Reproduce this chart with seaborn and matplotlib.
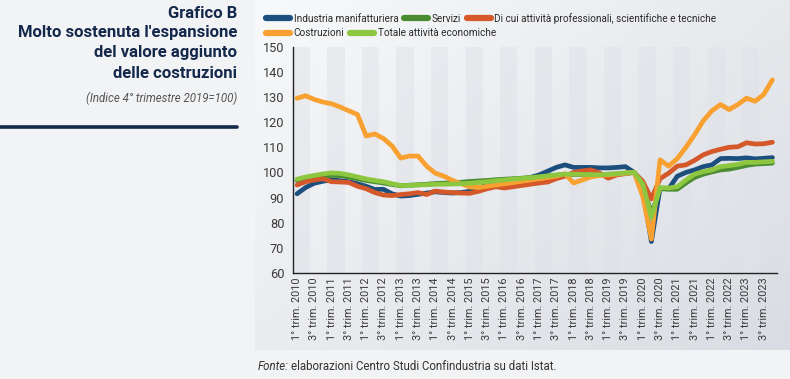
import numpy as np
import pandas as pd
import matplotlib
matplotlib.use("Agg")
import matplotlib.pyplot as plt
import seaborn as sns
from matplotlib.lines import Line2D

# quarterly labels, 1Q2010 - 4Q2023
years = list(range(2010, 2024))
quarters = [f"{q}° trim. {y}" for y in years for q in (1, 2, 3, 4)]

industria = [91.5, 94.0, 95.7, 96.5, 97.0, 96.7, 96.3, 95.5, 94.5, 93.2,
             93.3, 91.5, 90.6, 90.8, 91.3, 91.8, 92.3, 92.0, 91.8, 92.0,
             92.5, 93.5, 95.3, 96.0, 96.5, 97.0, 97.3, 98.0, 99.0, 100.5,
             102.0, 103.0, 102.0, 102.0, 102.0, 101.8, 101.8, 102.0, 102.3, 100.0,
             93.5, 72.5, 93.7, 93.5, 98.5, 100.0, 101.0, 102.3, 103.0, 105.5,
             105.6, 105.5, 105.8, 105.4, 105.6, 105.9]
servizi = [96.8, 97.5, 98.2, 98.6, 98.8, 98.7, 98.2, 97.5, 96.8, 96.3,
           95.8, 95.2, 94.7, 94.9, 95.1, 95.3, 95.6, 95.7, 95.9, 96.1,
           96.4, 96.6, 96.8, 97.1, 97.3, 97.5, 97.7, 98.0, 98.3, 98.6,
           98.9, 99.1, 99.2, 99.1, 99.0, 99.0, 99.2, 99.4, 99.7, 100.0,
           95.3, 83.5, 93.5, 93.3, 93.3, 95.8, 98.0, 99.3, 100.2, 101.0,
           101.3, 102.0, 102.8, 103.3, 103.5, 103.7]
professionali = [95.0, 96.3, 97.0, 97.5, 96.3, 96.2, 96.0, 94.5, 93.5, 92.0,
                 91.0, 90.8, 91.2, 91.5, 92.0, 91.2, 92.6, 92.2, 92.0, 91.8,
                 91.7, 92.5, 93.5, 94.3, 93.8, 94.3, 94.8, 95.3, 95.8, 96.2,
                 97.5, 98.5, 100.0, 100.6, 101.0, 99.8, 97.7, 99.0, 99.5, 100.0,
                 96.5, 89.5, 97.5, 99.7, 102.5, 103.0, 104.8, 107.0, 108.3, 109.2,
                 110.0, 110.2, 111.8, 111.3, 111.4, 112.0]
costruzioni = [129.5, 130.5, 129.0, 128.0, 127.3, 126.0, 124.5, 123.0, 114.5, 115.3,
               113.5, 110.5, 105.7, 106.5, 106.5, 102.5, 99.7, 98.5, 96.8, 95.5,
               94.2, 94.0, 94.5, 95.0, 95.5, 96.0, 96.5, 97.0, 97.5, 98.0,
               98.5, 99.5, 95.8, 97.0, 98.2, 98.8, 99.0, 99.3, 99.7, 100.0,
               90.5, 73.5, 105.0, 102.5, 105.5, 110.0, 115.0, 120.5, 124.5, 127.0,
               125.0, 127.0, 129.5, 128.3, 131.0, 136.8]
totale = [97.3, 98.2, 98.8, 99.4, 99.8, 99.6, 99.0, 98.2, 97.4, 96.8,
          96.3, 95.5, 94.8, 94.8, 95.0, 95.1, 95.3, 95.3, 95.4, 95.5,
          95.7, 96.0, 96.3, 96.7, 97.0, 97.3, 97.6, 97.9, 98.2, 98.6,
          99.0, 99.3, 99.3, 99.2, 99.1, 99.1, 99.3, 99.5, 99.8, 100.0,
          95.5, 82.0, 94.0, 93.8, 94.3, 97.0, 99.3, 100.3, 101.0, 102.3,
          102.7, 103.2, 104.0, 104.0, 104.2, 104.4]

series_names = ["Industria manifatturiera", "Servizi",
                "Di cui attività professionali, scientifiche e tecniche",
                "Costruzioni", "Totale attività economiche"]
series_colors = ["#1c4f7e", "#4b8b32", "#d5582a", "#f8a030", "#8dc63f"]

wide = pd.DataFrame({"pos": np.arange(len(quarters))})
for name, vals in zip(series_names, [industria, servizi, professionali, costruzioni, totale]):
    wide[name] = vals
data = wide.melt(id_vars="pos", var_name="serie", value_name="valore")

sns.set_theme(style="white")
plt.rcParams["font.family"] = ["Roboto", "DejaVu Sans"]

fig = plt.figure(figsize=(7.9, 3.79), dpi=100)
fig.patch.set_facecolor("#f2f3f5")

# soft gradient panel behind the chart
bg = fig.add_axes([255 / 790, 1 - 350 / 379, 535 / 790, 350 / 379], zorder=-5)
gx, gy = np.meshgrid(np.linspace(0, 1, 200), np.linspace(0, 1, 100))
grad = 0.55 * gx + 0.45 * gy
bg.imshow(grad, cmap=matplotlib.colors.LinearSegmentedColormap.from_list("g", ["#f8f9fa", "#d9dce2"]),
          aspect="auto", extent=[0, 1, 1, 0])
bg.axis("off")

ax = fig.add_axes([292.7 / 790, 1 - 273 / 379, 484 / 790, 226.3 / 379])
ax.set_facecolor("none")

n = len(quarters)
for k in range(0, n, 4):
    ax.axvspan(k - 0.5, k + 1.5, color="#dfe2e8", alpha=0.5, lw=0, zorder=0)

sns.lineplot(data=data, x="pos", y="valore", hue="serie", hue_order=series_names,
             palette=series_colors, linewidth=3.4, legend=False, ax=ax, sort=False)
for ln in ax.lines:
    ln.set_solid_joinstyle("round")
    ln.set_solid_capstyle("round")

ax.set_xlim(-0.5, n - 0.5)
ax.set_ylim(60, 150)
ax.set_yticks(range(60, 151, 10))
ax.set_xticks(np.arange(-0.5, n, 2))
ax.set_xticklabels([])
ax.set_xticks(np.arange(0, n, 2), minor=True)
ax.set_xticklabels(quarters[::2], minor=True, rotation=90, fontsize=7.8, color="#3a3a3a")
ax.tick_params(axis="x", which="major", length=4, width=0.9, color="#222222", direction="out")
ax.tick_params(axis="x", which="minor", length=0, pad=3)
ax.tick_params(axis="y", length=4, width=0.9, color="#222222", pad=2, labelsize=9.2,
               labelcolor="#3a3a3a")
ax.set_xlabel("")
ax.set_ylabel("")
for side in ["top", "right"]:
    ax.spines[side].set_visible(False)
for side in ["left", "bottom"]:
    ax.spines[side].set_color("#222222")
    ax.spines[side].set_linewidth(1.0)

# legend in two rows, as in the original
handles = [Line2D([0], [0], color=c, lw=4.5, solid_capstyle="round") for c in series_colors]
leg_kw = dict(frameon=False, handlelength=2.4, handletextpad=0.35, columnspacing=0.6,
              prop={"size": 7.2}, labelcolor="#2a2a2a", borderaxespad=0)
leg1 = fig.legend(handles[:3], series_names[:3], ncol=3, loc="upper left",
                  bbox_to_anchor=(262 / 790, 1 - 9 / 379), **leg_kw)
leg2 = fig.legend(handles[3:], series_names[3:], ncol=2, loc="upper left",
                  bbox_to_anchor=(262 / 790, 1 - 24 / 379), **leg_kw)

# title block on the left
navy = "#14284b"
title_lines = ["Grafico B", "Molto sostenuta l'espansione", "del valore aggiunto", "delle costruzioni"]
for i, t in enumerate(title_lines):
    fig.text(237 / 790, 1 - (13 + 20 * i) / 379, t, ha="right", va="center",
             fontsize=12, fontweight="bold", color=navy)
fig.text(237 / 790, 1 - 98 / 379, "(Indice 4° trimestre 2019=100)", ha="right", va="center",
         fontsize=8.3, style="italic", color="#555555")
fig.add_artist(Line2D([0, 237 / 790], [1 - 127 / 379] * 2, color=navy, lw=2.6))

fig.text(258 / 790, 1 - 367 / 379, "Fonte:", ha="left", va="center", fontsize=8.3,
         style="italic", color="#333333")
fig.text(291 / 790, 1 - 367 / 379, "elaborazioni Centro Studi Confindustria su dati Istat.",
         ha="left", va="center", fontsize=8.3, color="#333333")

fig.savefig("out.png", dpi=100, facecolor=fig.get_facecolor())
